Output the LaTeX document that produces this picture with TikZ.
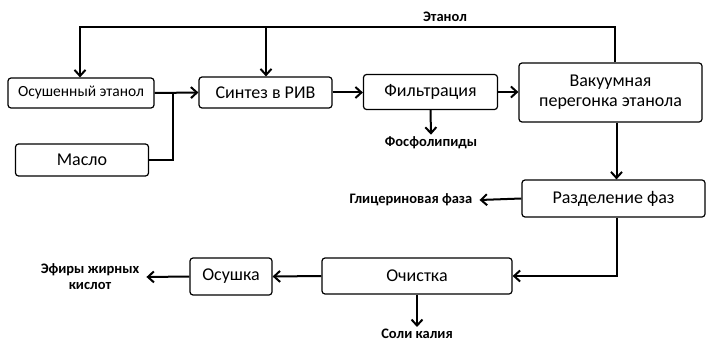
\documentclass[tikz,border=0pt]{standalone}
\usepackage{fontspec}
\setmainfont{Carlito}
\usetikzlibrary{arrows.meta,positioning}

\begin{document}
\begin{tikzpicture}[x=1pt, y=-1pt,
  stage/.style={rectangle, draw=black, rounded corners=3pt, line width=1.2pt, font=\fontsize{18}{20}\selectfont, align=center, inner sep=0pt},
  flow/.style={-{Straight Barb[length=6pt, width=11pt]}, line width=2pt},
  link/.style={line width=2pt},
  product/.style={font=\fontsize{14.5}{16}\selectfont\bfseries, align=center, inner xsep=7pt, inner ysep=2pt}
]
  \useasboundingbox (0,0) rectangle (706,342);

  % stages
  \node[stage, minimum width=146, minimum height=30, font=\fontsize{15.5}{18}\selectfont] (dryeth) at (81,93) {Осушенный этанол};
  \node[stage, minimum width=133, minimum height=32] (oil) at (82,160) {Масло};
  \node[stage, minimum width=133, minimum height=31] (synth) at (265.5,92.5) {Синтез в РИВ};
  \node[stage, minimum width=134, minimum height=35] (filt) at (430.5,92) {Фильтрация};
  \node[stage, minimum width=183, minimum height=59] (vac) at (610.5,92.5) {Вакуумная\\перегонка этанола};
  \node[stage, minimum width=183, minimum height=37] (sep) at (613.5,198.5) {Разделение фаз};
  \node[stage, minimum width=190, minimum height=36] (clean) at (417,276) {Очистка};
  \node[stage, minimum width=82, minimum height=37] (dryer) at (231,276.5) {Осушка};

  % products
  \node[product] (ethlbl) at (445,17) {Этанол};
  \node[product] (phos) at (431,143) {Фосфолипиды};
  \node[product] (glyc) at (411,200) {Глицериновая фаза};
  \node[product] (salts) at (417,334) {Соли калия};
  \node[product] (esters) at (90,277) {Эфиры жирных\\кислот};

  % ethanol recycle
  \coordinate (loopR) at (615,27);
  \coordinate (loopL) at (80,27);
  \coordinate (loopM) at (266,27);
  \coordinate (merge) at (173,93);
  \draw[flow] (loopR |- vac.north) -- (loopR) -- (loopL) -- (loopL |- dryeth.north);
  \draw[flow] (loopM) -- (loopM |- synth.north);

  % main line
  \draw[link] (oil.east) -| (merge);
  \draw[flow] (dryeth.east) -- (synth.west);
  \draw[flow] (synth.east) -- (synth.east -| filt.west);
  \draw[flow] (filt.east) -- (filt.east -| vac.west);
  \draw[flow] (filt.south) -- (phos.north);
  \draw[flow] ([xshift=6pt]vac.south) -- ([xshift=6pt]vac.south |- sep.north);
  \draw[flow] (sep.west) -- (glyc.east);
  \draw[flow] ([xshift=3pt]sep.south) |- (clean.east);
  \draw[flow] (clean.west) -- (dryer.east);
  \draw[flow] (clean.south) -- (salts.north);
  \draw[flow] (dryer.west) -- (esters.east);
\end{tikzpicture}
\end{document}
